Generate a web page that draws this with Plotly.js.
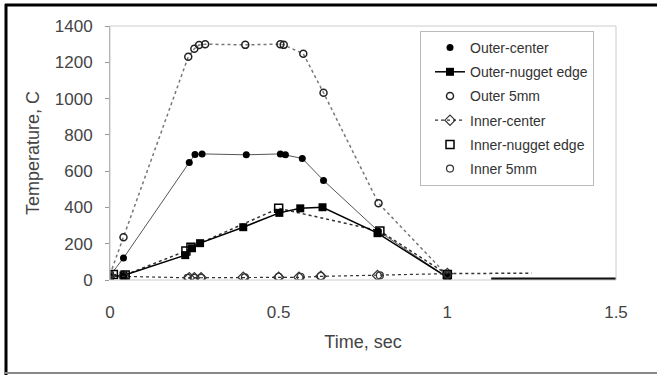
<!DOCTYPE html>
<html>
<head>
<meta charset="utf-8">
<script src="https://cdn.plot.ly/plotly-3.0.1.min.js"></script>
<style>html,body{margin:0;padding:0;background:#fff;}#chart{width:657px;height:375px;}</style>
</head>
<body>
<div id="chart"></div>
<script>
// Data (time in s, temperature in C)
const outerCenterX = [0.0, 0.04, 0.235, 0.252, 0.273, 0.404, 0.505, 0.52, 0.570, 0.633, 0.795, 1.0];
const outerCenterY = [25, 121, 648, 692, 695, 690, 695, 690, 670, 549, 270, 15];

const outerNuggetX = [0.0, 0.04, 0.223, 0.243, 0.267, 0.395, 0.502, 0.564, 0.630, 0.793, 1.0];
const outerNuggetY = [20, 25, 137, 175, 203, 291, 370, 395, 401, 258, 15];

const outer5mmX = [0.0, 0.04, 0.232, 0.25, 0.264, 0.282, 0.401, 0.505, 0.515, 0.573, 0.633, 0.796, 1.0];
const outer5mmY = [30, 236, 1230, 1275, 1295, 1300, 1296, 1300, 1296, 1247, 1032, 423, 25];

const innerCenterX = [0.0, 0.04, 0.235, 0.25, 0.27, 0.395, 0.5, 0.56, 0.625, 0.793, 1.0];
const innerCenterY = [20, 20, 12, 12, 12, 15, 15, 15, 20, 25, 35];

const innerNuggetX = [0.01, 0.045, 0.225, 0.24, 0.5, 0.8, 1.0];
const innerNuggetY = [30, 28, 160, 181, 395, 270, 30];

const inner5mmX = [0.0, 0.23, 0.25, 0.27, 0.4, 0.5, 0.565, 0.625, 0.8, 1.0];
const inner5mmY = [25, 12, 12, 12, 15, 18, 18, 22, 25, 30];

// late-time samples
const innerTailX = [1.0, 1.25];
const innerTailY = [35, 38];
const outerTailX = [1.13, 1.5];
const outerTailY = [3, 3];

const xTicks = [0, 0.5, 1, 1.5];
const xTickText = ['0', '0.5', '1', '1.5'];
const yTicks = [0, 200, 400, 600, 800, 1000, 1200, 1400];

const traces = [
  // helper lines (not in legend)
  {x: outer5mmX, y: outer5mmY, mode: 'lines', line: {color: '#777', width: 1.5, dash: 'dot'}, showlegend: false, hoverinfo: 'skip'},
  {x: outerCenterX, y: outerCenterY, mode: 'lines', line: {color: '#555', width: 1}, showlegend: false, hoverinfo: 'skip'},
  {x: innerNuggetX, y: innerNuggetY, mode: 'lines', line: {color: '#333', width: 1.5, dash: 'dot'}, showlegend: false, hoverinfo: 'skip'},
  {x: innerTailX, y: innerTailY, mode: 'lines', line: {color: '#333', width: 1.5, dash: 'dot'}, showlegend: false, hoverinfo: 'skip'},
  {x: outerTailX, y: outerTailY, mode: 'lines', line: {color: '#111', width: 4}, showlegend: false, hoverinfo: 'skip'},
  // legend series
  {name: 'Outer-center', legendgroup: 'g1', x: outerCenterX, y: outerCenterY, mode: 'markers', marker: {symbol: 'circle', size: 7, color: '#000'}},
  {name: 'Outer-nugget edge', legendgroup: 'g2', x: outerNuggetX, y: outerNuggetY, mode: 'lines+markers', line: {color: '#000', width: 1.5}, marker: {symbol: 'square', size: 8, color: '#000'}},
  {name: 'Outer 5mm', legendgroup: 'g3', x: outer5mmX, y: outer5mmY, mode: 'markers', marker: {symbol: 'circle-open', size: 7, color: '#222', line: {width: 1.5}}},
  {name: 'Inner-center', legendgroup: 'g4', x: innerCenterX, y: innerCenterY, mode: 'lines+markers', line: {color: '#333', width: 1.2, dash: 'dot'}, marker: {symbol: 'diamond-open', size: 8, color: '#333', line: {width: 1.2}}},
  {name: 'Inner-nugget edge', legendgroup: 'g5', x: innerNuggetX, y: innerNuggetY, mode: 'markers', marker: {symbol: 'square-open', size: 8, color: '#000', line: {width: 1.5}}},
  {name: 'Inner 5mm', legendgroup: 'g6', x: inner5mmX, y: inner5mmY, mode: 'markers', marker: {symbol: 'circle-open', size: 7, color: '#333', line: {width: 1.2}}}
];

const px = v => (v - 110) / 506;   // frame helpers in paper units
const py = v => (280 - v) / 254;

const layout = {
  width: 657, height: 375,
  margin: {l: 110, r: 41, t: 26, b: 95, pad: 0},
  paper_bgcolor: '#fff', plot_bgcolor: '#fff',
  font: {family: 'Liberation Sans, Arial, sans-serif', color: '#333'},
  showlegend: true,
  legend: {
    x: px(420), y: py(31), xanchor: 'left', yanchor: 'top',
    bgcolor: '#fff', bordercolor: '#bbb', borderwidth: 1,
    traceorder: 'grouped', tracegroupgap: 3, indentation: 9,
    font: {size: 14, color: '#333'}
  },
  xaxis: {
    range: [0, 1.5], tickvals: xTicks, ticktext: xTickText,
    showgrid: false, zeroline: false, showline: false,
    ticks: '', ticklabelstandoff: 20,
    tickfont: {size: 17, color: '#444'},
    title: {text: 'Time, sec', font: {size: 18, color: '#444'}, standoff: 14}
  },
  yaxis: {
    range: [0, 1400], tickvals: yTicks,
    showgrid: false, zeroline: false, showline: true, linecolor: '#999', linewidth: 1,
    ticks: 'outside', ticklen: 4, tickcolor: '#999', ticklabelstandoff: 9,
    tickfont: {size: 17, color: '#444'},
    title: {text: 'Temperature, C', font: {size: 18, color: '#444'}, standoff: 10}
  },
  shapes: [
    {type: 'rect', xref: 'paper', yref: 'paper', x0: 0, x1: 1, y0: 0, y1: 1, line: {color: '#ccc', width: 1}},
    {type: 'line', xref: 'paper', yref: 'paper', x0: px(5), x1: px(657), y0: py(5), y1: py(5), line: {color: '#000', width: 3}},
    {type: 'line', xref: 'paper', yref: 'paper', x0: px(6), x1: px(6), y0: py(4), y1: py(375), line: {color: '#000', width: 3}},
    {type: 'line', xref: 'paper', yref: 'paper', x0: px(5), x1: px(657), y0: py(373), y1: py(373), line: {color: '#888', width: 2}}
  ]
};

Plotly.newPlot('chart', traces, layout, {displayModeBar: false, staticPlot: true});
</script>
</body>
</html>
